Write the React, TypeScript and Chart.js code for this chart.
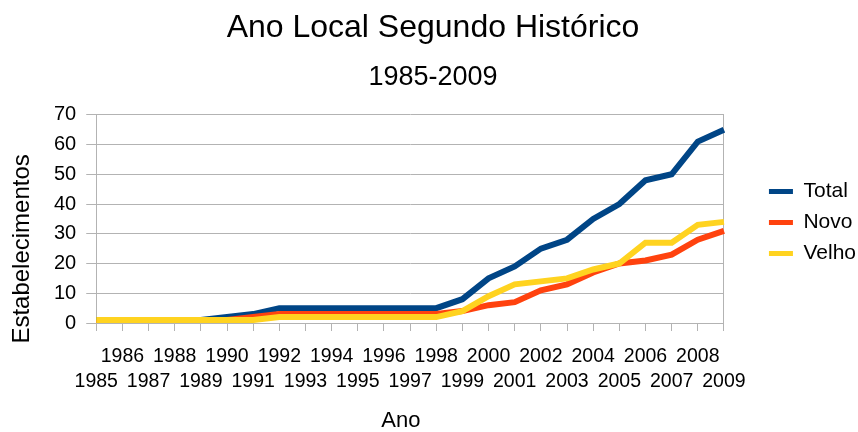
import React, { useEffect, useRef } from 'react';
import { Chart, registerables } from 'chart.js';

Chart.register(...registerables);

const FONT = "'Liberation Sans', Arial, sans-serif";

const years = [
  '1985', '1986', '1987', '1988', '1989', '1990', '1991', '1992', '1993', '1994',
  '1995', '1996', '1997', '1998', '1999', '2000', '2001', '2002', '2003', '2004',
  '2005', '2006', '2007', '2008', '2009',
];

const totalValues = [1, 1, 1, 1, 1, 2, 3, 5, 5, 5, 5, 5, 5, 5, 8, 15, 19, 25, 28, 35, 40, 48, 50, 61, 65];
const novoValues = [0, 0, 0, 0, 0, 1, 2, 3, 3, 3, 3, 3, 3, 3, 4, 6, 7, 11, 13, 17, 20, 21, 23, 28, 31];
const velhoValues = [1, 1, 1, 1, 1, 1, 1, 2, 2, 2, 2, 2, 2, 2, 4, 9, 13, 14, 15, 18, 20, 27, 27, 33, 34];

const seriesNames = ['Total', 'Novo', 'Velho'];
const seriesColors = ['#004586', '#ff420e', '#ffd320'];

const chartTitle = 'Ano Local Segundo Histórico';
const chartSubtitle = '1985-2009';
const xTitle = 'Ano';
const yTitle = 'Estabelecimentos';
const yMin = 0;
const yMax = 70;
const yStep = 10;

const GRID = '#b3b3b3';

export default function App() {
  const ref = useRef<HTMLCanvasElement>(null);

  useEffect(() => {
    if (!ref.current) return;
    const seriesData = [totalValues, novoValues, velhoValues];
    const chart = new Chart(ref.current, {
      type: 'line',
      data: {
        labels: years,
        datasets: seriesNames.map((name, i) => ({
          label: name,
          data: seriesData[i],
          borderColor: seriesColors[i],
          backgroundColor: seriesColors[i],
          borderWidth: 6,
          pointRadius: 0,
          pointHoverRadius: 0,
          tension: 0,
          fill: false,
          order: 3 - i,
          yAxisID: 'y',
        })),
      },
      options: {
        animation: false,
        responsive: true,
        maintainAspectRatio: false,
        events: [],
        layout: { padding: { left: 0, right: -8, top: 0, bottom: 0 } },
        plugins: {
          title: {
            display: true,
            text: chartTitle,
            color: '#000',
            font: { family: FONT, size: 32, weight: 'normal', lineHeight: 1.2 },
            padding: { top: 9, bottom: 14 },
          },
          subtitle: {
            display: true,
            text: chartSubtitle,
            color: '#000',
            font: { family: FONT, size: 27, weight: 'normal', lineHeight: 1.2 },
            padding: { top: 0, bottom: 21 },
          },
          legend: {
            display: true,
            position: 'right',
            align: 'center',
            fullSize: false,
            title: {
              display: true,
              text: ' ',
              font: { family: FONT, size: 1, lineHeight: 1 },
              padding: { top: 3, bottom: 3 },
            },
            labels: {
              color: '#000',
              font: { family: FONT, size: 21 },
              boxWidth: 24,
              boxHeight: 5,
              padding: 10,
              sort: (a: any, b: any) => a.datasetIndex - b.datasetIndex,
              generateLabels: (c: any) =>
                Chart.defaults.plugins.legend.labels
                  .generateLabels(c)
                  .map((l: any) => ({ ...l, lineWidth: 0 })),
            },
          },
          tooltip: { enabled: false },
        },
        scales: {
          x: {
            type: 'category',
            offset: false,
            grid: {
              drawOnChartArea: false,
              drawTicks: true,
              tickLength: 8,
              color: GRID,
            },
            border: { display: true, color: GRID },
            ticks: {
              autoSkip: false,
              maxRotation: 0,
              minRotation: 0,
              padding: 13,
              color: '#000',
              font: { family: FONT, size: 19.5, lineHeight: 1.282 },
              callback: (_v: any, idx: number) =>
                idx % 2 === 0 ? ['', years[idx]] : [years[idx], ''],
            },
            title: {
              display: true,
              text: xTitle + '   ',
              color: '#000',
              font: { family: FONT, size: 22, lineHeight: 1 },
              padding: { top: 3, bottom: 0 },
            },
          },
          y: {
            type: 'linear',
            position: 'left',
            min: yMin,
            max: yMax,
            grid: { color: GRID, tickLength: 10, drawTicks: true },
            border: { display: true, color: GRID },
            ticks: {
              stepSize: yStep,
              padding: 10,
              color: '#000',
              font: { family: FONT, size: 20 },
            },
            title: {
              display: true,
              text: yTitle + '         ',
              color: '#000',
              font: { family: FONT, size: 24, lineHeight: 1 },
              padding: { top: 10, bottom: 10 },
            },
          },
          y2: {
            type: 'linear',
            position: 'right',
            grid: { drawOnChartArea: false, drawTicks: false },
            border: { display: true, color: GRID },
            ticks: { display: false },
            afterFit: (s: any) => {
              s.width = 35;
            },
          },
        },
      } as any,
    });
    return () => chart.destroy();
  }, []);

  return (
    <div style={{ position: 'fixed', left: 0, top: 0, width: 858, height: 432, background: '#fff' }}>
      <canvas ref={ref} />
    </div>
  );
}
